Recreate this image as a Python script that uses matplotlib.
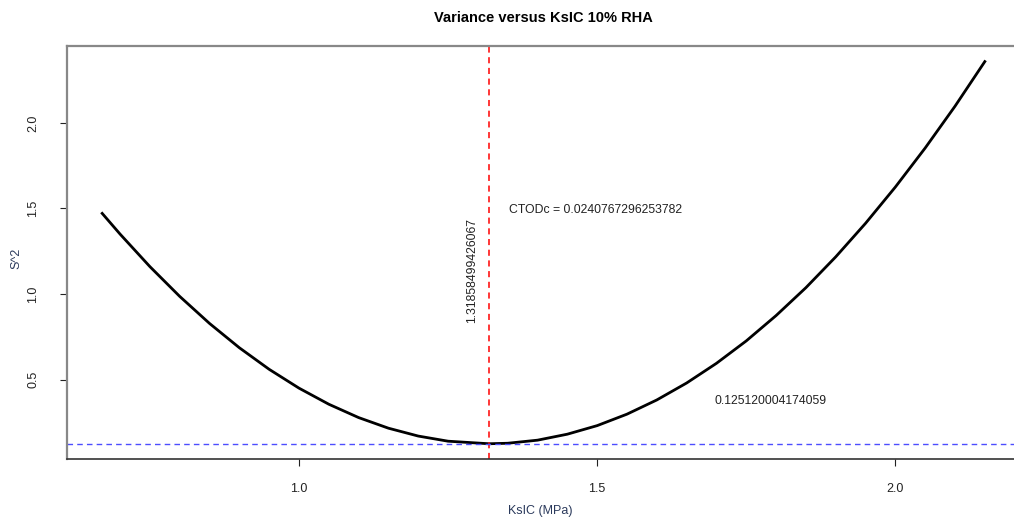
import matplotlib
matplotlib.use("Agg")
import matplotlib.pyplot as plt

# Data
ksic = [0.67, 0.70, 0.75, 0.80, 0.85, 0.90, 0.95, 1.00, 1.05, 1.10, 1.15,
        1.20, 1.25, 1.3186, 1.35, 1.40, 1.45, 1.50, 1.55, 1.60, 1.65, 1.70,
        1.75, 1.80, 1.85, 1.90, 1.95, 2.00, 2.05, 2.10, 2.15]
variance = [1.471, 1.350, 1.160, 0.986, 0.828, 0.686, 0.560, 0.450, 0.356,
            0.278, 0.216, 0.170, 0.140, 0.1251, 0.128, 0.146, 0.181, 0.231,
            0.298, 0.381, 0.480, 0.595, 0.726, 0.874, 1.037, 1.217, 1.413,
            1.625, 1.853, 2.097, 2.358]
x_min = 1.31858499426067
y_min = 0.125120004174059
ctodc = 0.0240767296253782
xticks = [1.0, 1.5, 2.0]
yticks = [0.5, 1.0, 1.5, 2.0]

plt.rcParams["font.family"] = ["Liberation Sans", "DejaVu Sans"]
lab_col = "#2b3a5c"
fs = 9

fig = plt.figure(figsize=(10.14, 5.24), dpi=100)
ax = fig.add_axes([67 / 1014, 1 - 459 / 524, (1020 - 67) / 1014, (459 - 46) / 524])

ax.plot(ksic, variance, color="black", lw=2.0)
ax.axvline(x_min, color="#ff0000", ls=(0, (4, 3)), lw=1.1)
ax.axhline(y_min, color="#4d4dff", ls=(0, (4, 3)), lw=1.0)

ax.text(1.352, 1.49, "CTODc = " + str(ctodc), fontsize=8.8, ha="left",
        va="center", color="#222222")
ax.text(1.291, 1.136, str(x_min), fontsize=8.8, rotation=90, ha="center",
        va="center", color="#222222")
ax.text(1.791, 0.372, str(y_min), fontsize=8.8, ha="center", va="center",
        color="#222222")

ax.set_xlim(0.611, 2.209)
ax.set_ylim(0.036, 2.449)
ax.set_xticks(xticks)
ax.set_xticklabels([str(t) for t in xticks])
ax.set_yticks(yticks)
ax.set_yticklabels([str(t) for t in yticks], rotation=90, va="center")
ax.tick_params(axis="x", labelsize=fs, length=5, pad=12, colors="#222222")
ax.tick_params(axis="y", labelsize=fs, length=5, pad=15, colors="#222222")
for t in ax.yaxis.get_ticklines():
    t.set_color("#888888")

for side in ["top", "left"]:
    ax.spines[side].set_color("#888888")
    ax.spines[side].set_linewidth(1.6)
ax.spines["right"].set_visible(False)
ax.spines["bottom"].set_color("#333333")
ax.spines["bottom"].set_linewidth(1.2)

fig.text(540 / 1014, 1 - 511 / 524, "KsIC (MPa)", fontsize=fs, color=lab_col,
         ha="center", va="center")
fig.text(16 / 1014, 1 - 258 / 524, "S^2", fontsize=fs, color=lab_col,
         ha="center", va="center", rotation=90)
fig.text(543 / 1014, 1 - 18 / 524, "Variance versus KsIC 10% RHA",
         fontsize=10.5, fontweight="bold", ha="center", va="center")

fig.savefig("out.png", dpi=100)
